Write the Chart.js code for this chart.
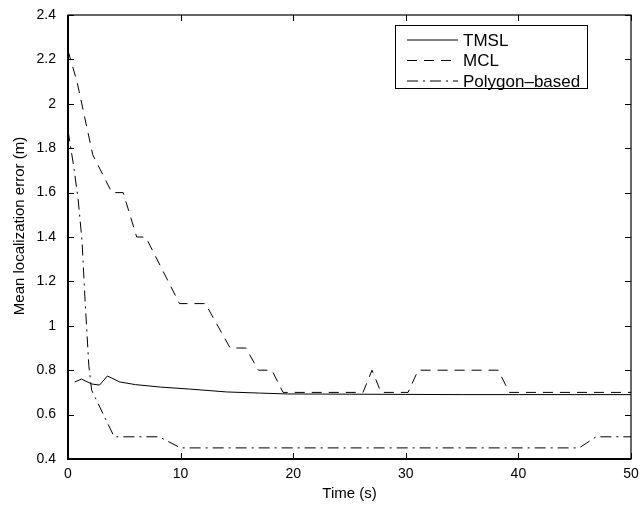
<!DOCTYPE html>
<html>
<head>
<meta charset="utf-8">
<script src="https://cdn.jsdelivr.net/npm/chart.js@4/dist/chart.umd.min.js"></script>
<style>
  html, body { margin: 0; padding: 0; background: #fff; }
  #wrap { width: 641px; height: 507px; }
</style>
</head>
<body>
<div id="wrap"><canvas id="myChart" width="641" height="507"></canvas></div>
<script>
// data
const tmslTime = [0.6, 1.2, 2.1, 2.8, 3.5, 4.6, 6, 8.2, 10.8, 14.1, 17, 19.5, 25, 30, 35, 40, 45, 50];
const tmslError = [0.747, 0.76, 0.738, 0.733, 0.774, 0.747, 0.735, 0.724, 0.715, 0.702, 0.697, 0.693, 0.692, 0.691, 0.69, 0.69, 0.69, 0.69];

const mclTime = [0, 0.8, 2.2, 3.9, 4.9, 6.1, 6.9, 9.9, 12.2, 14.4, 15.8, 16.9, 18.1, 19.1, 26.2, 27, 27.8, 30.2, 31.1, 38.2, 39.2, 50];
const mclError = [2.24, 2.1, 1.77, 1.6, 1.6, 1.4, 1.4, 1.1, 1.1, 0.9, 0.9, 0.8, 0.8, 0.7, 0.7, 0.8, 0.7, 0.7, 0.8, 0.8, 0.7, 0.7];

const polyTime = [0, 0.5, 0.9, 1.25, 1.5, 1.85, 2.1, 4.1, 8.1, 10, 45.4, 46.9, 50];
const polyError = [1.88, 1.72, 1.57, 1.38, 1.13, 0.82, 0.71, 0.5, 0.5, 0.45, 0.45, 0.5, 0.5];

const xTicks = [0, 10, 20, 30, 40, 50];
const yTicks = [0.4, 0.6, 0.8, 1, 1.2, 1.4, 1.6, 1.8, 2, 2.2, 2.4];
const yTitle = "Mean localization error (m)";

const toPoints = (xs, ys) => xs.map((x, i) => ({ x: x, y: ys[i] }));

// matlab style box, inward ticks, y title and legend
const matlabAxes = {
  id: "matlabAxes",
  afterDraw(chart) {
    const ctx = chart.ctx;
    const a = chart.chartArea;
    const xs = chart.scales.x, ys = chart.scales.y;
    ctx.save();
    ctx.strokeStyle = "#000";
    ctx.lineWidth = 1;
    ctx.beginPath();
    xTicks.forEach(v => {
      const px = Math.round(xs.getPixelForValue(v)) + 0.5;
      ctx.moveTo(px, a.bottom); ctx.lineTo(px, a.bottom - 6);
      ctx.moveTo(px, a.top); ctx.lineTo(px, a.top + 6);
    });
    yTicks.forEach(v => {
      const py = Math.round(ys.getPixelForValue(v)) + 0.5;
      ctx.moveTo(a.left, py); ctx.lineTo(a.left + 6, py);
      ctx.moveTo(a.right, py); ctx.lineTo(a.right - 6, py);
    });
    ctx.stroke();
    ctx.lineWidth = 1.2;
    ctx.strokeRect(a.left, a.top, a.right - a.left, a.bottom - a.top);
    ctx.lineWidth = 2;
    ctx.beginPath();
    ctx.moveTo(a.left, a.top); ctx.lineTo(a.left, a.bottom); ctx.lineTo(a.right, a.bottom);
    ctx.stroke();

    // y axis title
    ctx.fillStyle = "#000";
    ctx.font = "15px 'Liberation Sans', Arial, sans-serif";
    ctx.textAlign = "center";
    ctx.textBaseline = "middle";
    ctx.translate(20, 226);
    ctx.rotate(-Math.PI / 2);
    ctx.fillText(yTitle, 0, 0);
    ctx.setTransform(1, 0, 0, 1, 0, 0);

    // legend box
    const bx = 395, by = 25, bw = 192, bh = 63;
    ctx.fillStyle = "#fff";
    ctx.fillRect(bx, by, bw, bh);
    ctx.lineWidth = 1;
    ctx.strokeRect(bx + 0.5, by + 0.5, bw, bh);
    ctx.font = "17px 'Liberation Sans', Arial, sans-serif";
    ctx.textAlign = "left";
    ctx.textBaseline = "middle";
    ctx.fillStyle = "#000";
    chart.data.datasets.forEach((ds, i) => {
      const yy = by + 15 + i * 20.5;
      ctx.beginPath();
      ctx.setLineDash(ds.borderDash || []);
      ctx.lineWidth = 1;
      ctx.moveTo(407, yy); ctx.lineTo(458, yy);
      ctx.stroke();
      ctx.setLineDash([]);
      ctx.fillText(ds.label, 463, yy + 1);
    });
    ctx.restore();
  }
};

new Chart(document.getElementById("myChart").getContext("2d"), {
  type: "line",
  data: {
    datasets: [
      { label: "TMSL", data: toPoints(tmslTime, tmslError), borderColor: "#000", borderWidth: 1, borderDash: [] },
      { label: "MCL", data: toPoints(mclTime, mclError), borderColor: "#000", borderWidth: 1, borderDash: [10, 7] },
      { label: "Polygon\u2013based", data: toPoints(polyTime, polyError), borderColor: "#000", borderWidth: 1, borderDash: [11, 5, 2, 5] }
    ]
  },
  options: {
    responsive: false,
    animation: false,
    layout: { padding: { top: 15, right: 10, left: 0, bottom: 0 } },
    elements: { point: { radius: 0 }, line: { tension: 0 } },
    plugins: { legend: { display: false }, tooltip: { enabled: false } },
    scales: {
      x: {
        type: "linear", min: 0, max: 50,
        afterFit: s => { s.height = 48; s.paddingLeft = 0; s.paddingRight = 0; },
        afterBuildTicks: s => { s.ticks = xTicks.map(v => ({ value: v })); },
        grid: { display: false, drawTicks: false },
        border: { display: false },
        ticks: { color: "#000", padding: 7, font: { family: "'Liberation Sans', Arial", size: 14 } },
        title: { display: true, text: "Time (s)", color: "#000", padding: { top: 0 }, font: { family: "'Liberation Sans', Arial", size: 15 } }
      },
      y: {
        type: "linear", min: 0.4, max: 2.4,
        afterFit: s => { s.width = 68; s.paddingTop = 0; s.paddingBottom = 0; },
        afterBuildTicks: s => { s.ticks = yTicks.map(v => ({ value: v })); },
        grid: { display: false, drawTicks: false },
        border: { display: false },
        ticks: { color: "#000", padding: 12, font: { family: "'Liberation Sans', Arial", size: 14 }, callback: v => String(+v.toFixed(1)) },
        title: { display: false }
      }
    }
  },
  plugins: [matlabAxes]
});
</script>
</body>
</html>
